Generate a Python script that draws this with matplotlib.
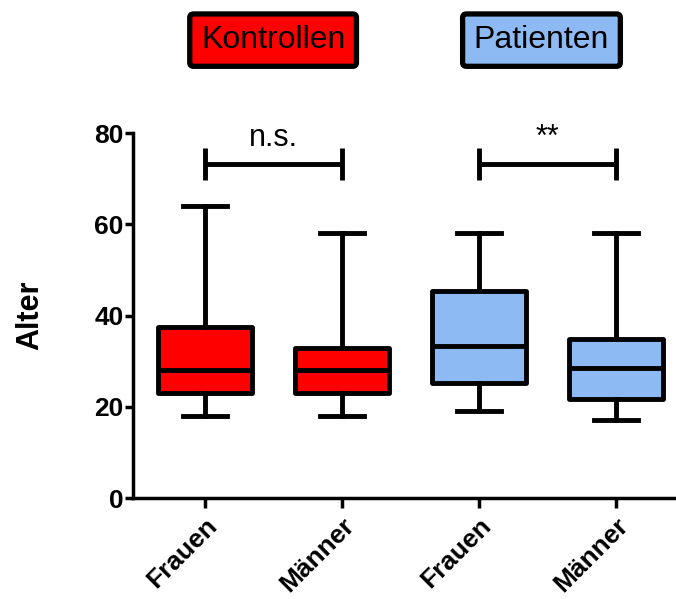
import matplotlib
matplotlib.use("Agg")
import matplotlib.pyplot as plt

plt.rcParams["font.family"] = ["Liberation Sans", "DejaVu Sans"]

# Box plot summary values (min to max whiskers)
labels = ["Frauen", "Männer", "Frauen", "Männer"]
mins = [18, 18, 19, 17]
q1s = [23, 23, 25.3, 21.8]
medians = [28, 28, 33.4, 28.5]
q3s = [37.5, 32.8, 45.4, 34.8]
maxs = [64, 58, 58, 58]
groups = ["Kontrollen", "Patienten"]
group_colors = ["#FF0000", "#8EBAF4"]
box_colors = [group_colors[0], group_colors[0], group_colors[1], group_colors[1]]

# significance brackets: (left box, right box, label)
sig = [(0, 1, "n.s."), (2, 3, "**")]

fig = plt.figure(figsize=(6.76, 5.99), dpi=100)
ax = fig.add_axes([0.197, 0.1686, 0.803, 0.6092])

stats = []
for i in range(len(labels)):
    stats.append({"whislo": mins[i], "q1": q1s[i], "med": medians[i],
                  "q3": q3s[i], "whishi": maxs[i], "label": labels[i]})

lw = 3.5
bp = ax.bxp(stats, positions=range(len(labels)), widths=0.69, capwidths=0.32,
            showfliers=False, patch_artist=True,
            boxprops=dict(linewidth=lw, edgecolor="black", joinstyle="round"),
            medianprops=dict(linewidth=lw, color="black"),
            whiskerprops=dict(linewidth=lw, color="black"),
            capprops=dict(linewidth=lw, color="black"))
for patch, c in zip(bp["boxes"], box_colors):
    patch.set_facecolor(c)

ax.set_xlim(-0.526, 3.44)
ax.set_ylim(0, 80)
ax.set_yticks([0, 20, 40, 60, 80])
ax.set_xticks(range(len(labels)))
ax.set_xticklabels(labels, rotation=45, ha="right", rotation_mode="anchor",
                   fontsize=19, fontweight="bold")
for t in ax.get_yticklabels():
    t.set_fontsize(19)
    t.set_fontweight("bold")
ax.set_ylabel("Alter", fontsize=22, fontweight="bold", labelpad=35)

for s in ["top", "right"]:
    ax.spines[s].set_visible(False)
for s in ["left", "bottom"]:
    ax.spines[s].set_linewidth(2.5)
ax.tick_params(axis="y", width=2.5, length=6, pad=1)
ax.tick_params(axis="x", width=2.5, length=7, pad=4)

# significance brackets
for a, b, txt in sig:
    ax.plot([a, b], [73.2, 73.2], color="black", lw=lw, clip_on=False,
            solid_capstyle="butt")
    for x in (a, b):
        ax.plot([x, x], [69.7, 76.7], color="black", lw=lw, clip_on=False,
                solid_capstyle="butt")
    ax.text((a + b) / 2, 77.2, txt, ha="center", va="baseline",
            fontsize=22, clip_on=False)

# legend boxes at top
legend_x = [0.404, 0.801]
for name, c, x in zip(groups, group_colors, legend_x):
    fig.text(x, 0.933, name, ha="center", va="center", fontsize=23,
             bbox=dict(boxstyle="round,pad=0.35,rounding_size=0.12",
                       facecolor=c, edgecolor="black", linewidth=3.8))

fig.savefig("out.png", dpi=100)
